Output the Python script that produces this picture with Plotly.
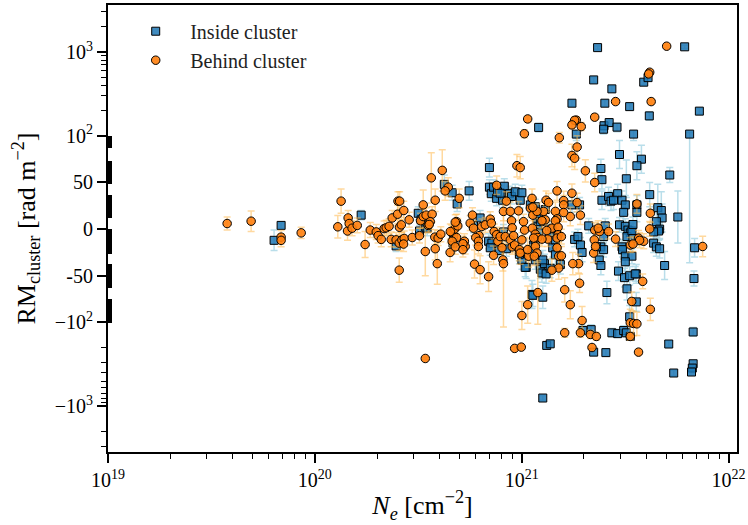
import numpy as np
import plotly.graph_objects as go

# ---------------- data ----------------
# x values given as log10(N_e / cm^-2); RM in rad m^-2; err = 1-sigma RM error
inside_log_ne = [19.837, 19.803, 20.224, 20.393, 20.500, 20.506, 20.536, 20.514, 20.543, 20.626,
                 20.664, 20.688, 20.668, 20.670, 20.746, 20.767, 20.799, 20.844, 20.844, 20.853,
                 20.879, 20.907, 20.916, 20.941, 20.951, 20.969, 20.993, 21.001, 21.042, 21.066,
                 21.082, 20.840, 20.856, 20.848, 20.892, 20.912, 20.926, 20.989, 21.001, 20.989,
                 21.022, 21.058, 21.050, 21.066, 21.050, 21.078, 21.082, 21.017, 21.090, 21.098,
                 21.118, 21.110, 21.054, 21.102, 21.066, 21.102, 21.138, 21.074, 21.090, 21.114,
                 21.243, 21.280, 21.324, 21.404, 21.473, 21.501, 21.514, 21.525, 21.509, 21.256,
                 21.284, 21.292, 21.383, 21.396, 21.375, 21.485, 21.488, 21.501, 21.468, 21.497,
                 21.522, 21.554, 21.509, 21.383, 21.554, 21.412, 21.691, 21.522, 21.336, 21.296,
                 21.348, 21.407, 21.436, 21.464, 21.493, 21.506, 21.525, 21.711, 21.735, 21.829,
                 21.829, 21.825, 21.821, 21.121, 21.138, 21.102, 21.367, 21.788, 21.348, 21.436,
                 21.590, 21.611, 21.243, 21.402, 21.522, 21.617, 21.859, 21.082, 21.398, 21.423,
                 21.396, 21.461, 21.264, 21.541, 21.473, 21.579, 21.557, 21.716, 21.383, 21.388,
                 21.506, 21.619, 21.388, 21.420, 21.432, 21.464, 21.485, 21.501, 21.493, 21.557,
                 21.557, 21.658, 21.675, 21.679, 21.651, 21.667, 21.662, 21.638, 21.638, 21.651,
                 21.667, 21.755, 21.836, 21.833, 21.533, 21.538, 21.533, 21.549, 21.538, 21.361,
                 21.396, 21.444, 21.501, 21.272, 20.864, 20.883, 20.896, 21.150, 21.163, 21.187,
                 21.163, 21.145, 21.134, 21.812]
inside_rm = [4, -12, 15, -18, 17, -2, 2, 10, 1, 48,
             39, 27, -15, -9, 41, 4, 12, 66, 45, 38,
             33, 31, 46, 38, 35, 40, 31, 39, 26, 24,
             15, -13, -15, -20, -23, -3, -21, -24, -33, -27,
             -41, -17, -24, -12, -70, 4, -4, -41, -43, -47,
             -48, -37, -71, -73, -33, -33, -42, 11, 8, 21,
             26, 26, 3.5, 3.5, 4.6, 3, -1, -4, -8, -11,
             -17, -25, -19, -22, -33, -19, -22, -29, -45, -52,
             -50, -48, -64, -39, -78, -68, -39, -94, -122, -125,
             -226, -229, -133, -136, -125, -133, -147, -181, -401, -130,
             -311, -350, -390, -188, -180, -796, 1125, 1150, 464, 363,
             436, 494, 245, 245, 223, 173, 197, 126, 132, 144,
             120, 127, 105, 105, 80, 75, 68, 58, 65, 53,
             54, 37, 31, 35, 30, 38, 31, 26, 18, 26,
             18, 23, 20, 12, 8, 0, -2, -3, -15, -19,
             -21, 13, -20, -53, -2, -10, -29, -48, 5, -19,
             -8, 31, -35, -8, 45, 40, 38.5, -20, -27.5, -38,
             -11.5, -3.6, 0, 105]
inside_err_lo = [3, 11, 5, 6, 7, 6, 6, 6, 8, 10,
                 8, 8, 8, 8, 10, 8, 8, 10, 8, 8,
                 8, 8, 8, 8, 8, 8, 8, 8, 8, 8,
                 8, 8, 8, 8, 8, 8, 8, 10, 10, 10,
                 12, 10, 10, 8, 15, 8, 8, 10, 10, 10,
                 10, 10, 12, 12, 10, 10, 10, 8, 8, 8,
                 8, 8, 8, 8, 8, 8, 8, 8, 8, 8,
                 8, 10, 8, 8, 10, 8, 8, 10, 10, 10,
                 10, 10, 12, 10, 10, 12, 15, 12, 15, 15,
                 20, 20, 15, 15, 15, 15, 15, 15, 30, 15,
                 20, 20, 20, 15, 15, 50, 50, 50, 30, 30,
                 30, 30, 20, 20, 20, 20, 15, 15, 15, 15,
                 15, 15, 10, 10, 15, 15, 15, 8, 10, 10,
                 20, 13, 10, 10, 10, 10, 10, 10, 10, 10,
                 10, 25, 20, 15, 10, 10, 10, 10, 10, 10,
                 10, 28, 10, 8, 8, 8, 8, 8, 8, 8,
                 8, 10, 10, 8, 8, 8, 8, 10, 10, 10,
                 8, 8, 8, 141]
inside_err_hi = inside_err_lo[:-1] + [5]

behind_log_ne = [19.576, 19.692, 19.837, 19.837, 19.934, 20.127, 20.111, 20.161, 20.158, 20.166,
                 20.180, 20.205, 20.243, 20.268, 20.297, 20.306, 20.321, 20.335, 20.345, 20.359,
                 20.374, 20.369, 20.393, 20.408, 20.421, 20.432, 20.429, 20.400, 20.409, 20.418,
                 20.430, 20.456, 20.402, 20.410, 20.408, 20.471, 20.506, 20.524, 20.534, 20.511,
                 20.524, 20.538, 20.548, 20.567, 20.563, 20.582, 20.582, 20.592, 20.580, 20.596,
                 20.609, 20.616, 20.645, 20.630, 20.661, 20.675, 20.685, 20.685, 20.691, 20.698,
                 20.558, 20.553, 20.654, 20.679, 20.655, 20.664, 20.679, 20.723, 20.727, 20.716,
                 20.716, 20.751, 20.762, 20.767, 20.794, 20.778, 20.791, 20.791, 20.772, 20.799,
                 20.840, 20.807, 20.824, 20.848, 20.853, 20.867, 20.879, 20.885, 20.864, 20.879,
                 20.896, 20.905, 20.921, 20.909, 20.945, 20.954, 20.966, 20.926, 20.912, 20.945,
                 20.951, 20.954, 20.961, 20.977, 20.993, 20.985, 21.009, 21.014, 21.001, 20.989,
                 20.993, 21.033, 21.029, 21.042, 21.054, 21.052, 21.066, 21.078, 20.912, 21.078,
                 21.029, 21.001, 21.208, 21.235, 21.208, 20.966, 20.998, 21.275, 21.280, 20.534,
                 21.292, 21.284, 21.332, 21.361, 21.340, 21.532, 21.525, 21.541, 21.557, 21.525,
                 21.565, 21.622, 21.585, 21.701, 21.619, 21.614, 21.454, 21.626, 21.029, 21.013,
                 21.182, 21.353, 21.264, 21.256, 21.243, 21.288, 21.268, 21.243, 21.256, 21.308,
                 21.353, 21.243, 21.268, 21.235, 21.171, 21.203, 21.203, 21.203, 21.163, 21.171,
                 21.163, 21.146, 21.176, 21.176, 21.171, 21.192, 21.121, 21.126, 21.098, 21.118,
                 21.130, 21.106, 21.114, 21.098, 21.074, 21.054, 21.050, 21.058, 21.066, 21.074,
                 21.061, 21.171, 21.179, 21.192, 21.179, 21.146, 21.247, 21.353, 21.377, 21.351,
                 21.420, 21.348, 21.454, 21.525, 21.557, 21.565, 21.590, 21.622, 21.619, 21.570,
                 21.875, 21.538, 21.284, 21.370, 21.357]
behind_rm = [6, 8.5, -8.6, -12, -4, 30, 2.5, 12, -2, 6,
             1, 4, -16.5, -1, -3, -7, -11, 0.6, 1.4, 3,
             12, -11, -11.5, -15, -11.5, -10, -16, 16, 2, 4.6,
             20, 10, 30, 30, -44, -9, -7, 26, -24, 9,
             13.5, 15, 4, 16, 55, 31, -21, -37, -8.6, -9.6,
             -5.4, 63, 45, 41, -3.6, 0, -9, 8, 3.5, 33,
             8, 5, -25, 7.5, -2.6, -13, -19, -13, -18.6, -15.7,
             -22, 6.4, 15, 1, -7, -9, -13, -18.6, -37.5, -43.5,
             -51, 2.8, 4.6, 10.7, 6.4, -2.6, -6, -13, -28, 47,
             -8, -20, -8, -33, -11.5, -19, -17, 30, 19, 19,
             9, 1.4, -7, 68, 66, 19.6, 8, -1, -11.5, -22,
             -25.7, -29, -22, 22.5, 15, 1, -5.4, -9, -37, -68,
             -81, -92.6, -65, -81, -133, -204, -197, -37, -58, -269,
             -98, -133, -139, -147, -199, -77.5, -101, -103, -104, -147,
             -226, -86, -56, 1170, 573, 547, 256, 256, 159, 106,
             98, 167, 154, 153, 135, 129, 88, 79, 76, 62.5,
             50, 38.5, 28.5, 13.5, 41, 30.6, 26, 17.8, 19, 11,
             9, 1, 2, -6, -9.6, -8, -1.5, -10.7, -10.7, 31,
             28.5, 19, 10, 9, 19, 23.5, 33, -9.6, -18.6, -25.7,
             -29, -20, -29, -28.6, -41.7, -44, -37, -1, -2.6, -11.5,
             -2.6, -25.7, -10.7, -17, 27, -9.6, -13, 17, 0.3, -12,
             -18.6, -16, 15, 1, -18.6]
behind_err = [7, 11, 7, 7, 6, 13, 12, 8, 10, 8,
              8, 8, 14, 8, 8, 8, 8, 8, 8, 8,
              8, 8, 8, 8, 8, 8, 8, 10, 8, 8,
              10, 8, 10, 10, 13, 8, 8, 16, 26, 8,
              8, 8, 8, 8, 27, 12, 12, 22, 8, 8,
              8, 22, 10, 10, 8, 8, 8, 8, 8, 10,
              8, 8, 10, 8, 8, 8, 8, 8, 8, 8,
              8, 8, 8, 8, 8, 8, 8, 8, 15, 15,
              16, 8, 8, 8, 8, 8, 8, 8, 10, 10,
              8, 10, 8, 12, 8, 8, 8, 10, 10, 10,
              8, 8, 8, 12, 12, 10, 8, 8, 8, 12,
              12, 12, 12, 10, 10, 8, 8, 8, 68, 34,
              20, 15, 13, 15, 15, 8, 8, 10, 10, 8,
              15, 15, 15, 15, 15, 10, 15, 15, 15, 15,
              15, 12, 8, 50, 40, 40, 20, 20, 15, 12,
              12, 15, 15, 15, 15, 15, 12, 12, 12, 12,
              10, 10, 10, 10, 10, 10, 10, 10, 10, 8,
              8, 8, 8, 8, 8, 8, 8, 8, 8, 10,
              10, 10, 8, 8, 8, 8, 10, 8, 8, 10,
              10, 10, 10, 10, 12, 12, 12, 8, 8, 8,
              8, 10, 8, 8, 10, 8, 8, 10, 8, 8,
              11, 8, 10, 8, 8]

x_tick_vals = [1e19, 1e20, 1e21, 1e22]
x_tick_text = ["10<sup>19</sup>", "10<sup>20</sup>", "10<sup>21</sup>", "10<sup>22</sup>"]
y_tick_vals = [1000, 100, 50, 0, -50, -100, -1000]
y_tick_text = ["10<sup>3</sup>", "10<sup>2</sup>", "50", "0", "-50", "\u221210<sup>2</sup>", "\u221210<sup>3</sup>"]

# ---------------- symlog helper (linthresh=100, linscale=1, base 10) ----------------
LIN = 100.0
LSC = 1.0 / (1.0 - 0.1)


def T(v):
    v = np.asarray(v, dtype=float)
    a = np.abs(v)
    return np.sign(v) * np.where(a <= LIN, a / LIN * LSC, LSC + np.log10(np.maximum(a, 1e-300) / LIN))


def series(log_ne, rm, err_lo, err_hi):
    rm = np.asarray(rm, float)
    lo = np.asarray(err_lo, float)
    hi = np.asarray(err_hi, float)
    y = T(rm)
    return 10 ** np.asarray(log_ne), y, T(rm + hi) - y, y - T(rm - lo)


ix, iy, iup, idn = series(inside_log_ne, inside_rm, inside_err_lo, inside_err_hi)
bx, by, bup, bdn = series(behind_log_ne, behind_rm, behind_err, behind_err)

FONT = "Liberation Serif"
fig = go.Figure()
fig.add_trace(go.Scatter(
    x=ix, y=iy, mode="markers", name="Inside cluster",
    marker=dict(symbol="square", size=8, color="rgba(31,119,180,0.85)",
                line=dict(color="black", width=1)),
    error_y=dict(type="data", symmetric=False, array=iup, arrayminus=idn,
                 color="rgba(173,216,230,0.85)", thickness=1.5, width=3.5),
))
fig.add_trace(go.Scatter(
    x=bx, y=by, mode="markers", name="Behind cluster",
    marker=dict(symbol="circle", size=8.5, color="rgba(255,127,14,0.9)",
                line=dict(color="black", width=1)),
    error_y=dict(type="data", symmetric=True, array=bup, arrayminus=bdn,
                 color="rgba(255,185,80,0.55)", thickness=1.5, width=3.5),
))
# carrier for the overlay axis that draws the dense linear-region minor ticks
fig.add_trace(go.Scatter(x=[None], y=[None], yaxis="y2", showlegend=False, hoverinfo="skip"))

yr = [-2.655, 2.670]
x_minor = [k * 10.0 ** d for d in (19, 20, 21) for k in range(2, 10)]
y_minor_raw = [s * k * 10.0 ** d for s in (1, -1) for d in (2, 3) for k in range(2, 10)]
y_minor_raw = [v for v in y_minor_raw if abs(v) < 3500]
bands = [(87, 100), (49, 73), (12, 36), (-26, 0), (-63, -37.5), (-100, -75)]
lin_minor = T(np.concatenate([np.arange(a, b + 0.01, 0.7) for a, b in bands]))

axis_common = dict(showline=True, linewidth=2, linecolor="black", mirror=True,
                   showgrid=False, zeroline=False, ticks="outside", tickcolor="black",
                   automargin=False,
                   tickfont=dict(family=FONT, size=20, color="black"))

fig.update_layout(
    width=748, height=525,
    margin=dict(l=108, r=11, t=5, b=73),
    paper_bgcolor="white", plot_bgcolor="white",
    font=dict(family=FONT, color="black"),
    xaxis=dict(type="log", range=[19, 22.041], tickmode="array",
               tickvals=x_tick_vals, ticktext=x_tick_text, ticklen=9, tickwidth=1.5,
               minor=dict(tickmode="array", tickvals=x_minor, ticks="outside",
                          ticklen=5, tickwidth=1, tickcolor="black", showgrid=False),
               title=dict(text="<i>N</i><sub><i>e</i></sub> [cm<sup>\u22122</sup>]",
                          font=dict(family=FONT, size=26), standoff=6),
               **axis_common),
    yaxis=dict(range=yr, tickmode="array", tickvals=T(y_tick_vals), ticktext=y_tick_text,
               ticklen=9, tickwidth=1.5,
               minor=dict(tickmode="array", tickvals=T(y_minor_raw), ticks="outside",
                          ticklen=5, tickwidth=1, tickcolor="black", showgrid=False),
               title=dict(text="RM<sub>cluster</sub> [rad m<sup>\u22122</sup>]",
                          font=dict(family=FONT, size=26), standoff=12),
               **axis_common),
    yaxis2=dict(range=yr, overlaying="y", side="left", anchor="x", tickmode="array",
                tickvals=lin_minor, ticks="inside", ticklen=4, tickwidth=1,
                tickcolor="black", showticklabels=False, showline=False,
                showgrid=False, zeroline=False),
    legend=dict(x=0.021, y=0.985, xanchor="left", yanchor="top", itemwidth=59,
                font=dict(family=FONT, size=20, color="#222"),
                bgcolor="rgba(0,0,0,0)", borderwidth=0, tracegroupgap=2),
    showlegend=True,
)

fig.write_html("out.html", config={"displayModeBar": False},
               post_script="document.body.style.margin='0';")
